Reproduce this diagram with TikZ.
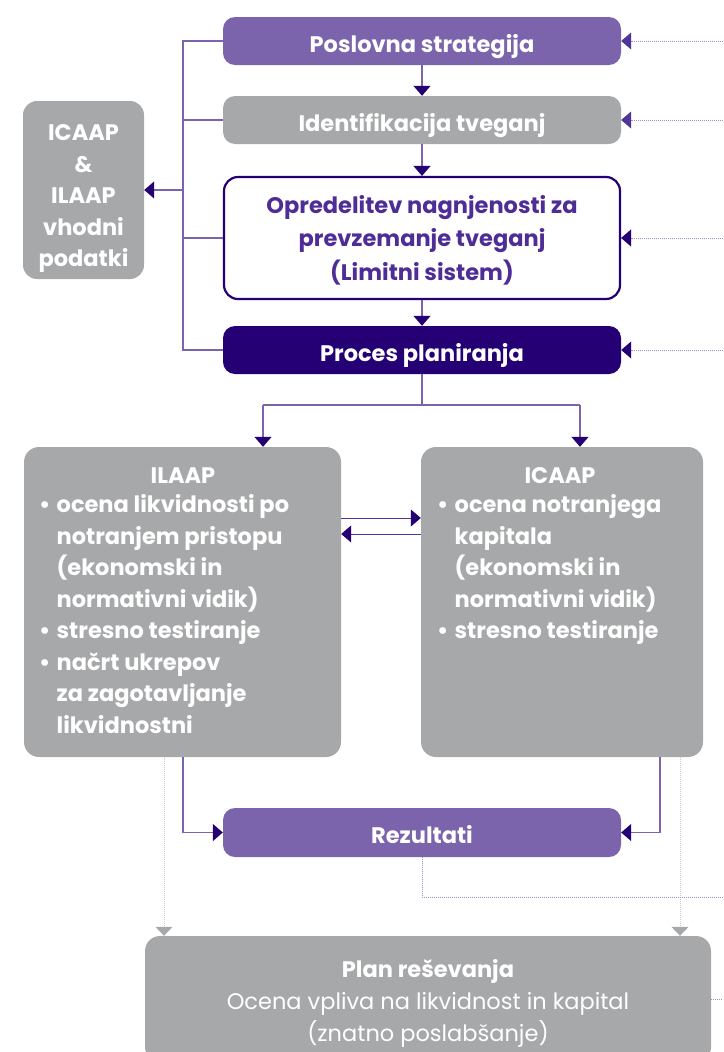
\documentclass[tikz,border=0pt]{standalone}
\usepackage{fontspec}
\setmainfont{Poppins}
\usetikzlibrary{arrows.meta}
\definecolor{pur}{HTML}{7B64AB}
\definecolor{gry}{HTML}{A7A8AA}
\definecolor{darkc}{HTML}{250075}
\definecolor{txtpur}{HTML}{4F2D96}
\definecolor{linec}{HTML}{7B64AB}
\definecolor{dotc}{HTML}{9E8FC8}
\definecolor{dotg}{HTML}{CACACA}
\definecolor{headm}{HTML}{4F3597}
\newcommand{\bulx}{\makebox[17.5pt][l]{•}}
\newcommand{\indx}{\hspace*{17.5pt}}
\begin{document}
\begin{tikzpicture}[x=1pt,y=-1pt,
  fnt/.style={font=\fontsize{22.5}{31.5}\selectfont\bfseries},
  box/.style={rounded corners=12pt, minimum width=398pt, minimum height=48pt, inner sep=0pt, text=white, fnt, text height=22pt, text depth=0pt},
  bigbox/.style={rounded corners=15pt, fill=gry, inner sep=0pt},
  lst/.style={inner sep=0pt, text=white, fnt},
  conn/.style={draw=linec, line width=1.3pt},
  thinc/.style={draw=headm, line width=0.8pt},
  arrD/.style={-{Triangle[length=10pt,width=17pt,color=darkc]}},
  arrM/.style={-{Triangle[length=10pt,width=17pt,color=headm]}},
  arrG/.style={-{Triangle[length=9pt,width=17pt,color=gry]}},
  dotin/.style={draw=dotc, line width=1pt, dash pattern=on 1pt off 1pt},
  dotgr/.style={draw=dotg, line width=1pt, dash pattern=on 1pt off 1pt},
]
\useasboundingbox (0,0) rectangle (723,1052);
\clip (0,0) rectangle (723,1052);

% main column
\node[box, fill=pur] (pos) at (422,41) {Poslovna strategija};
\node[box, fill=gry] (ident) at (422,120) {Identifikacija tveganj};
\node[box, draw=darkc, line width=2.2pt, fill=white, minimum width=396pt, minimum height=122pt, rounded corners=14pt, text=txtpur, text height=0pt, text depth=50pt] (opr) at (422,238)
  {\fontsize{22.5}{33.5}\selectfont\begin{tabular}[t]{@{}c@{}}Opredelitev nagnjenosti za\\prevzemanje tveganj\\(Limitni sistem)\end{tabular}};
\node[box, fill=darkc] (proc) at (422,350) {Proces planiranja};

% input box
\node[bigbox, minimum width=121pt, minimum height=178pt, rounded corners=14pt, text=white, fnt, text height=0pt, text depth=99pt] (inp) at (83.5,190)
  {\begin{tabular}[t]{@{}c@{}}ICAAP\\\&\\ILAAP\\vhodni\\podatki\end{tabular}};

% ILAAP / ICAAP boxes
\node[bigbox, minimum width=317pt, minimum height=310pt] (ilaap) at (182.5,602) {};
\node[bigbox, minimum width=282pt, minimum height=310pt] (icaap) at (562,602) {};
\node[lst, anchor=base] (ilaapT) at (183,483.5) {ILAAP};
\node[lst, anchor=base] (icaapT) at (560,483.5) {ICAAP};
\node[lst, anchor=base west] (ilaapL) at (39,512.5)
  {\begin{tabular}[t]{@{}l@{}}\bulx ocena likvidnosti po\\\indx notranjem pristopu\\\indx (ekonomski in\\\indx normativni vidik)\\\bulx stresno testiranje\\\bulx načrt ukrepov\\\indx za zagotavljanje\\\indx likvidnostni\end{tabular}};
\node[lst, anchor=base west] (icaapL) at (437,512.5)
  {\begin{tabular}[t]{@{}l@{}}\bulx ocena notranjega\\\indx kapitala\\\indx (ekonomski in\\\indx normativni vidik)\\\bulx stresno testiranje\end{tabular}};

% results and plan
\node[box, fill=pur, minimum height=49pt] (rez) at (422,832.5) {Rezultati};
\node[bigbox, minimum width=566pt, minimum height=126pt, text=white, font=\fontsize{22.5}{32}\selectfont, text height=0pt, text depth=44pt] (plan) at (428,999)
  {\begin{tabular}[t]{@{}c@{}}\textbf{Plan reševanja}\\Ocena vpliva na likvidnost in kapital\\(znatno poslabšanje)\end{tabular}};

% helper coordinates
\coordinate (bx) at (183,0);
\coordinate (bx2) at (660,0);
\coordinate (re) at (723,0);
\coordinate (sL) at (263,405);
\coordinate (sR) at (580,405);
\coordinate (gL) at (164,0);
\coordinate (gR) at (680,0);
\coordinate (rz) at (723,897);

% column arrows
\draw[conn, arrD] (pos.south) -- (ident.north);
\draw[conn, arrD] (ident.south) -- (opr.north);
\draw[conn, arrD] (opr.south) -- (proc.north);

% left bracket
\draw[conn] (pos.west) -- (pos.west -| bx) -- (proc.west -| bx) -- (proc.west);
\draw[conn] (ident.west) -- (ident.west -| bx);
\draw[conn] (opr.west) -- (opr.west -| bx);
\draw[conn, arrD] (bx |- inp.east) -- (inp.east);

% right dotted inputs
\draw[dotin, arrM] (pos.east -| re) -- (pos.east);
\draw[dotin, arrM] (ident.east -| re) -- (ident.east);
\draw[dotin, arrD] (opr.east -| re) -- (opr.east);
\draw[dotin, arrD] (proc.east -| re) -- (proc.east);

% split to ILAAP / ICAAP
\draw[conn] (proc.south) -- (proc.south |- sL);
\draw[conn] (sL) -- (sR);
\draw[conn, arrD] (sL) -- (sL |- ilaap.north);
\draw[conn, arrD] (sR) -- (sR |- icaap.north);

% exchange arrows
\draw[thinc, arrD] ([yshift=84pt]ilaap.east) -- ([yshift=84pt]icaap.west);
\draw[thinc, arrD] ([yshift=68pt]icaap.west) -- ([yshift=68pt]ilaap.east);

% to results
\draw[conn, arrD] (ilaap.south -| bx) |- (rez.west);
\draw[conn, arrD] (icaap.south -| bx2) |- (rez.east);

% to plan
\draw[dotgr, arrG] (ilaap.south -| gL) -- (plan.north -| gL);
\draw[dotgr, arrG] (icaap.south -| gR) -- (plan.north -| gR);
\draw[dotin] (rez.south) |- (rz);
\draw[dotin] (plan.east) -- (plan.east -| re);
\end{tikzpicture}
\end{document}
